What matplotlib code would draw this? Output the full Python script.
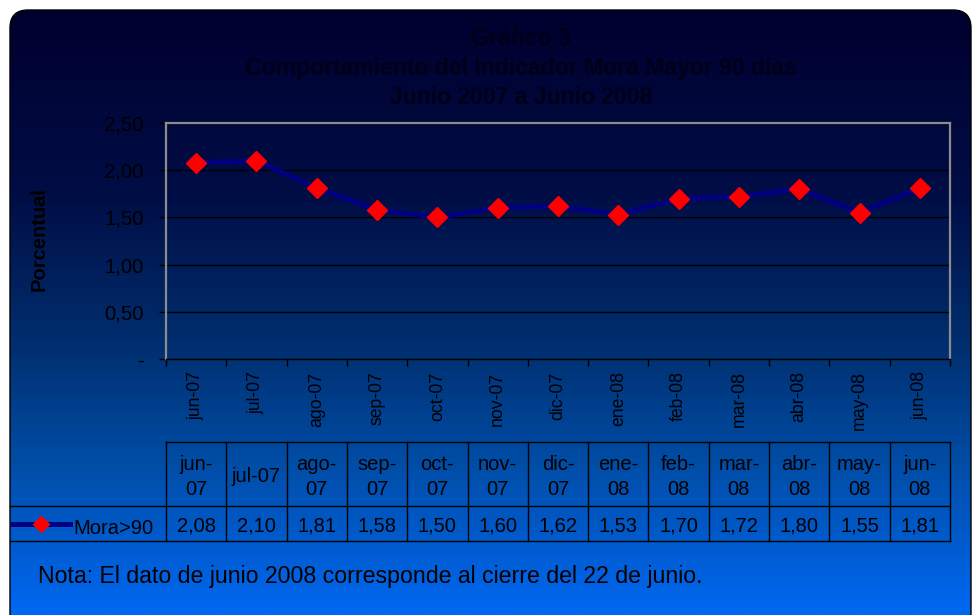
import numpy as np
import matplotlib
matplotlib.use("Agg")
import matplotlib.pyplot as plt
from matplotlib.patches import FancyBboxPatch
from matplotlib.colors import LinearSegmentedColormap
from matplotlib.lines import Line2D

# ---------------- data ----------------
months = ['jun-07', 'jul-07', 'ago-07', 'sep-07', 'oct-07', 'nov-07', 'dic-07',
          'ene-08', 'feb-08', 'mar-08', 'abr-08', 'may-08', 'jun-08']
mora90 = [2.08, 2.10, 1.81, 1.58, 1.50, 1.60, 1.62, 1.53, 1.70, 1.72, 1.80, 1.55, 1.81]
series_name = 'Mora>90'
yticks = [0.0, 0.5, 1.0, 1.5, 2.0, 2.5]
ytick_labels = ['-', '0,50', '1,00', '1,50', '2,00', '2,50']
title_lines = ['Gráfico 3',
               'Comportamiento del Indicador Mora Mayor 90 días',
               'Junio 2007 a Junio 2008']
ylabel = 'Porcentual'
note = 'Nota: El dato de junio 2008 corresponde al cierre del 22 de junio.'

plt.rcParams['font.family'] = ['Liberation Sans', 'DejaVu Sans']

W, H = 972, 615
fig = plt.figure(figsize=(W / 100, H / 100), dpi=100)
fig.patch.set_facecolor('white')

# ---------------- background panel (pixel coordinates) ----------------
bg = fig.add_axes([0, 0, 1, 1])
bg.set_xlim(0, W)
bg.set_ylim(H, 0)
bg.axis('off')

cmap = LinearSegmentedColormap.from_list(
    'bg', [(0.0, '#00002e'), (0.3, '#000d45'), (0.55, '#002e6e'),
           (0.75, '#004da6'), (1.0, '#0068f2')])
grad = np.linspace(0, 1, 512).reshape(-1, 1)
panel = FancyBboxPatch((10, 10), 961, 640, boxstyle='round,pad=0,rounding_size=18',
                       facecolor='none', edgecolor='black', linewidth=1.0, zorder=2)
bg.add_patch(panel)
im = bg.imshow(grad, cmap=cmap, aspect='auto', extent=(0, W, H, 10),
               origin='upper', zorder=1)
im.set_clip_path(panel)

# titles
for i, t in enumerate(title_lines):
    bg.text(521, 38.5 + i * 29.5, t, ha='center', va='center', fontsize=16.6,
            fontweight='bold', color='#000018', zorder=5)

bg.text(39, 239, ylabel, rotation=90, ha='center', va='center', fontsize=14.5,
        fontweight='bold', color='black', zorder=5)

bg.text(38, 577, note, ha='left', va='center', fontsize=16.7, color='black', zorder=5)

# ---------------- main chart ----------------
ax = fig.add_axes([166 / W, 1 - 359 / H, (950 - 166) / W, (359 - 123) / H])
ax.set_facecolor('none')
x = np.arange(len(months))
ax.plot(x, mora90, color='#000080', lw=3.6, marker='D', ms=9.7,
        markerfacecolor='#ff0000', markeredgecolor='#ff0000', zorder=3)
ax.set_xlim(-0.5, len(months) - 0.5)
ax.set_ylim(yticks[0], yticks[-1])
ax.set_yticks(yticks)
ax.set_yticklabels(ytick_labels)
ax.yaxis.grid(True, color='black', lw=1.0)
ax.set_axisbelow(True)
ax.tick_params(axis='y', direction='out', length=5, width=1, color='black',
               labelsize=14.7, labelcolor='black', pad=11)
ax.set_xticks(x)
ax.set_xticklabels(months, rotation=90, fontsize=12.7, color='black', va='top')
ax.set_xticks(np.arange(len(months) + 1) - 0.5, minor=True)
ax.tick_params(axis='x', which='major', length=0, pad=9)
ax.tick_params(axis='x', which='minor', direction='out', length=5, width=1, color='black')
for s in ['left', 'top', 'right']:
    ax.spines[s].set_color('#8c8c8c')
    ax.spines[s].set_linewidth(1.6)
ax.spines['bottom'].set_color('black')
ax.spines['bottom'].set_linewidth(1.0)

# ---------------- data table ----------------
tab = fig.add_axes([166 / W, 1 - 541 / H, (950 - 166) / W, (541 - 442) / H])
tab.set_xlim(-0.5, len(months) - 0.5)
tab.set_ylim(541, 442)
tab.axis('off')
tab.patch.set_alpha(0)
for b in np.arange(len(months) + 1) - 0.5:
    tab.plot([b, b], [442, 541], color='black', lw=1.0, clip_on=False)
tab.plot([-0.5, len(months) - 0.5], [442, 442], color='black', lw=1.0, clip_on=False)
for yy in (506, 541):
    bg.plot([10, 950], [yy, yy], color='black', lw=1.0, zorder=4)

header_labels = [m if m == 'jul-07' else m.replace('-', '-\n') for m in months]
for i, (h, v) in enumerate(zip(header_labels, mora90)):
    tab.text(i, 477, h, ha='center', va='center', fontsize=14.5, color='black',
             linespacing=1.42)
    tab.text(i, 526, f'{v:.2f}'.replace('.', ','), ha='center', va='center',
             fontsize=14.5, color='black')

# legend key inside table
bg.add_line(Line2D([13, 70], [524, 524], color='#000080', lw=3.6, zorder=5))
bg.add_line(Line2D([41], [524], marker='D', ms=8, color='#ff0000', zorder=6))
bg.text(73, 529, series_name, ha='left', va='center', fontsize=14.5, color='black', zorder=5)

fig.savefig('out.png', dpi=100, facecolor='white')
